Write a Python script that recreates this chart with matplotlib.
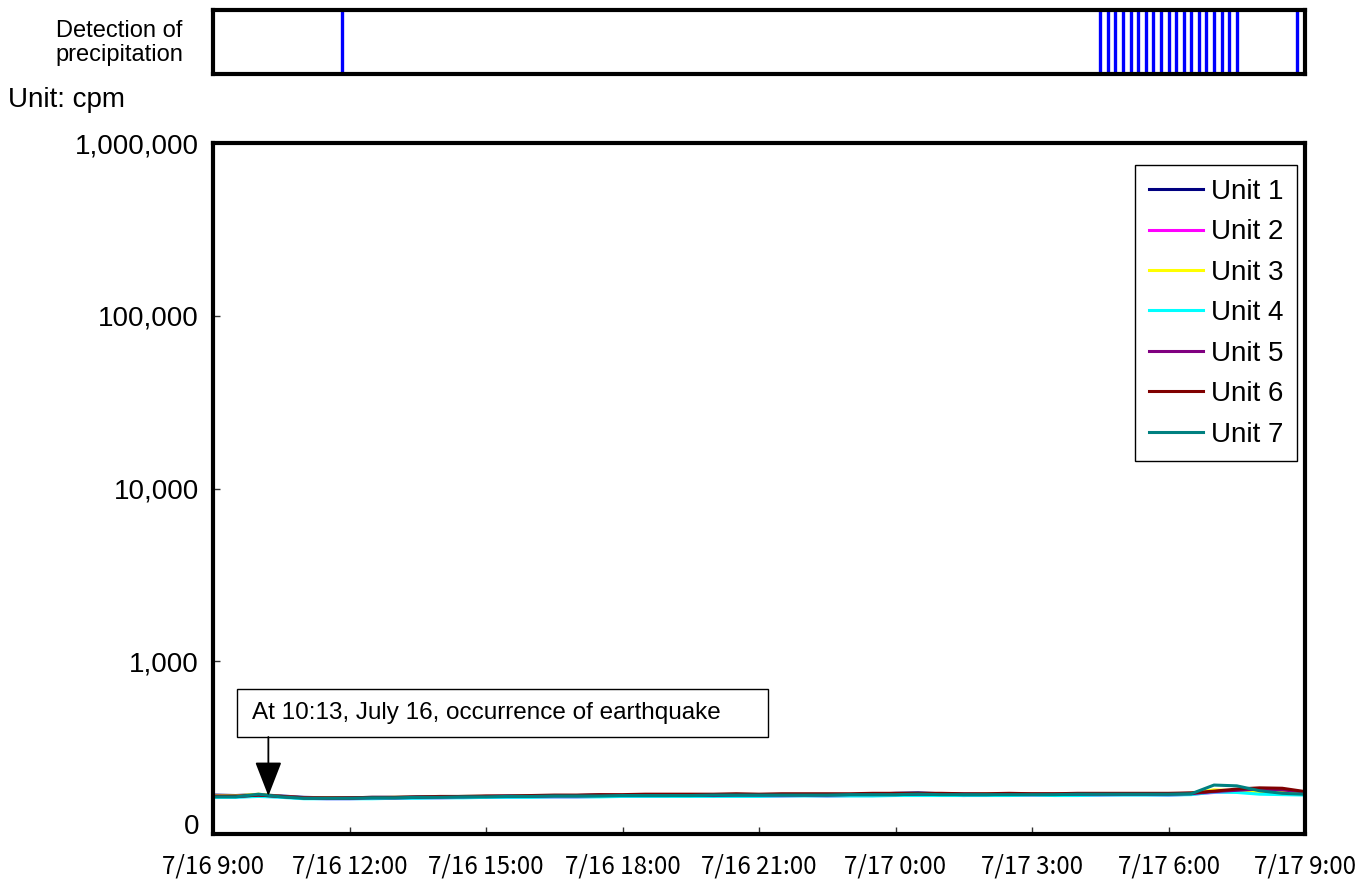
import matplotlib.pyplot as plt
import matplotlib.transforms as mtransforms
from matplotlib.patches import Rectangle
import pandas as pd

plt.rcParams["font.family"] = ["Liberation Sans", "DejaVu Sans"]

# half-hourly readings, 7/16 9:00 -> 7/17 9:00 (cpm)
times = pd.date_range("2007-07-16 09:00", "2007-07-17 09:00", freq="30min")

unit1 = [168, 167, 169, 166, 163, 162, 162, 163, 163, 164, 164, 165, 165, 166, 166, 167, 167,
         168, 167, 168, 168, 168, 167, 168, 168, 169, 168, 169, 169, 170, 172, 173, 171, 170,
         170, 169, 170, 170, 169, 170, 170, 171, 171, 172, 176, 178, 176, 174, 172]
unit2 = [165, 164, 166, 164, 161, 160, 160, 161, 161, 162, 162, 163, 163, 163, 164, 164, 164,
         165, 165, 165, 166, 165, 166, 166, 166, 166, 167, 166, 167, 167, 168, 168, 168, 167,
         168, 168, 168, 168, 168, 168, 169, 169, 168, 170, 174, 176, 177, 175, 172]
unit3 = [167, 166, 170, 165, 162, 162, 161, 162, 163, 163, 164, 165, 165, 165, 166, 166, 167,
         167, 167, 168, 168, 167, 168, 168, 168, 168, 168, 169, 169, 169, 170, 170, 170, 169,
         170, 170, 170, 170, 170, 170, 171, 170, 170, 172, 180, 178, 176, 175, 173]
unit4 = [163, 163, 165, 163, 160, 160, 160, 160, 161, 161, 162, 162, 163, 163, 163, 164, 164,
         164, 165, 165, 165, 165, 165, 165, 165, 166, 166, 166, 166, 166, 167, 167, 167, 167,
         167, 167, 168, 167, 167, 168, 168, 168, 168, 169, 175, 174, 170, 169, 168]
unit5 = [166, 165, 168, 165, 162, 161, 161, 162, 162, 163, 164, 164, 165, 165, 165, 166, 166,
         167, 167, 167, 167, 168, 167, 168, 168, 168, 168, 168, 169, 169, 169, 170, 170, 169,
         169, 170, 170, 170, 170, 170, 170, 170, 170, 171, 176, 179, 182, 180, 175]
unit6 = [165, 165, 168, 165, 162, 162, 162, 163, 163, 164, 165, 165, 166, 166, 167, 168, 168,
         169, 169, 170, 170, 170, 170, 171, 170, 171, 171, 171, 171, 172, 172, 172, 172, 171,
         171, 172, 171, 171, 172, 172, 172, 172, 172, 173, 177, 182, 185, 184, 176]
unit7 = [164, 164, 170, 164, 161, 161, 161, 162, 162, 163, 163, 164, 164, 165, 165, 166, 166,
         166, 167, 167, 167, 167, 168, 168, 168, 168, 168, 168, 169, 169, 169, 170, 169, 169,
         169, 169, 169, 169, 170, 170, 170, 170, 170, 171, 192, 190, 178, 172, 170]

series = [unit1, unit2, unit3, unit4, unit5, unit6, unit7]
labels = ["Unit 1", "Unit 2", "Unit 3", "Unit 4", "Unit 5", "Unit 6", "Unit 7"]
colors = ["#000080", "#FF00FF", "#FFFF00", "#00FFFF", "#800080", "#800000", "#008080"]

# precipitation detected (10-minute flags)
rain_times = pd.to_datetime([
    "2007-07-16 11:50",
    "2007-07-17 04:30", "2007-07-17 04:40", "2007-07-17 04:50", "2007-07-17 05:00",
    "2007-07-17 05:10", "2007-07-17 05:20", "2007-07-17 05:30", "2007-07-17 05:40",
    "2007-07-17 05:50", "2007-07-17 06:00", "2007-07-17 06:10", "2007-07-17 06:20",
    "2007-07-17 06:30", "2007-07-17 06:40", "2007-07-17 06:50", "2007-07-17 07:00",
    "2007-07-17 07:10", "2007-07-17 07:20", "2007-07-17 07:30",
    "2007-07-17 08:50",
])

quake_time = pd.Timestamp("2007-07-16 10:13")

xticks = pd.date_range("2007-07-16 09:00", "2007-07-17 09:00", freq="3h")
xtick_labels = ["7/16 9:00", "7/16 12:00", "7/16 15:00", "7/16 18:00", "7/16 21:00",
                "7/17 0:00", "7/17 3:00", "7/17 6:00", "7/17 9:00"]
yticks = [100, 1e3, 1e4, 1e5, 1e6]
ytick_labels = ["0", "1,000", "10,000", "100,000", "1,000,000"]

W, H = 1366, 882
AX_L, AX_R, AX_T, AX_B = 213, 1305, 143, 834
fig = plt.figure(figsize=(W / 100, H / 100), dpi=100)
ax = fig.add_axes([AX_L / W, 1 - AX_B / H, (AX_R - AX_L) / W, (AX_B - AX_T) / H])
axp = fig.add_axes([AX_L / W, 1 - 74 / H, (AX_R - AX_L) / W, 64 / H])

# --- precipitation strip ---
axp.vlines(rain_times, 0, 1, color="#0000FF", lw=2.4)
axp.set_xlim(times[0], times[-1])
axp.set_ylim(0, 1)
axp.set_xticks([])
axp.set_yticks([])
for s in axp.spines.values():
    s.set_linewidth(3)
fig.text(183 / W, 1 - 43 / H, "Detection of\nprecipitation", ha="right", va="center",
         multialignment="center", fontsize=17, linespacing=1.15)
fig.text(8 / W, 1 - 100 / H, "Unit: cpm", ha="left", va="center", fontsize=20)

# --- count-rate lines ---
for vals, lab, col in zip(series, labels, colors):
    ax.plot(times, vals, color=col, lw=2.2, label=lab)

ax.set_yscale("log")
ax.set_ylim(100, 1e6)
ax.set_xlim(times[0], times[-1])
ax.set_yticks(yticks)
ax.set_yticklabels(ytick_labels, fontsize=20)
ax.minorticks_off()
ax.set_xticks(xticks)
ax.set_xticklabels(xtick_labels, fontsize=17.4, family=["Noto Sans CJK JP", "DejaVu Sans"])
ax.tick_params(axis="both", direction="in", length=5, width=1, color="#333333")
ax.tick_params(axis="x", pad=14)
ax.tick_params(axis="y", pad=10)
for s in ax.spines.values():
    s.set_linewidth(3)

# the bottom label sits a little above the axis line
zero_lab = ax.get_yticklabels()[0]
zero_lab.set_transform(zero_lab.get_transform()
                       + mtransforms.ScaledTranslation(0, 10 / 100, fig.dpi_scale_trans))

leg = ax.legend(loc="upper right", bbox_to_anchor=(0.9927, 0.9682), fontsize=20,
                frameon=True, fancybox=False, edgecolor="black", framealpha=1,
                handlelength=1.95, handletextpad=0.28, labelspacing=0.52,
                borderpad=0.5, borderaxespad=0)
leg.get_frame().set_linewidth(1)

# earthquake callout
aw, ah = AX_R - AX_L, AX_B - AX_T
ax.add_patch(Rectangle(((237 - AX_L) / aw, (AX_B - 737) / ah), 531 / aw, 48 / ah,
                       transform=ax.transAxes, fc="white", ec="black", lw=1, zorder=5))
ax.text((252 - AX_L) / aw, (AX_B - 713) / ah, "At 10:13, July 16, occurrence of earthquake",
        transform=ax.transAxes, ha="left", va="center", fontsize=17.5, zorder=6)
ax.annotate("", xy=(quake_time, 166), xytext=(quake_time, 10 ** (6 - (737 - AX_T) / (ah / 4))),
            arrowprops=dict(arrowstyle="-|>,head_length=0.9,head_width=0.35",
                            color="black", lw=1.3, shrinkA=0, shrinkB=0,
                            mutation_scale=24), zorder=6)

fig.savefig("out.png", dpi=100)
